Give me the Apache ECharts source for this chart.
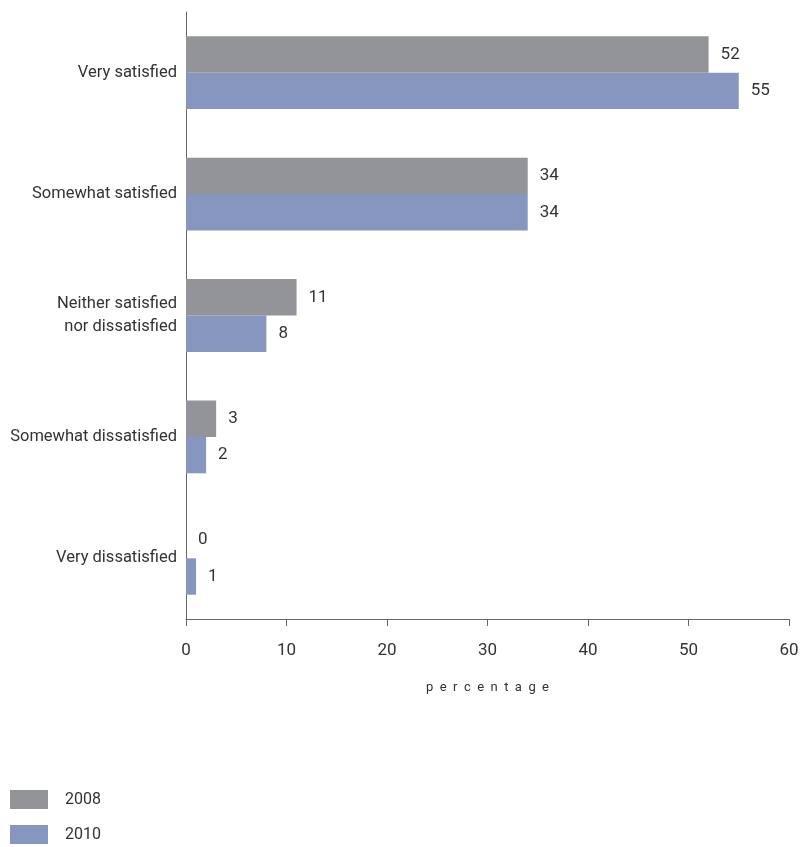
<!DOCTYPE html>
<html><head><meta charset="utf-8">
<script src="https://cdn.jsdelivr.net/npm/echarts@6/dist/echarts.min.js"></script>
<style>html,body{margin:0;padding:0;background:#fff}#c{width:802px;height:847px}</style>
</head><body><div id="c"></div>
<script>
const categories = ["Very satisfied","Somewhat satisfied","Neither satisfied\nnor dissatisfied","Somewhat dissatisfied","Very dissatisfied"];
const values2008 = [52,34,11,3,0];
const values2010 = [55,34,8,2,1];
const xTicks = [0,10,20,30,40,50,60];
const seriesNames = ["2008","2010"];

const chart = echarts.init(document.getElementById('c'));
const font = 'Roboto, "Liberation Sans", sans-serif';
const lbl = {show:true, position:'right', distance:12, color:'#333', fontSize:17, fontFamily:font};
const legendBase = {orient:'horizontal', left:10, padding:0, itemWidth:38, itemHeight:19, icon:'rect',
  textStyle:{color:'#333', fontSize:16, fontFamily:font, padding:[0,0,0,12]}};
chart.setOption({
  animation:false,
  grid:{left:186, right:13, top:12, bottom:228, containLabel:false},
  legend:[
    Object.assign({}, legendBase, {top:790, data:[seriesNames[0]]}),
    Object.assign({}, legendBase, {top:825, data:[seriesNames[1]]})
  ],
  xAxis:{
    type:'value', min:xTicks[0], max:xTicks[xTicks.length-1], interval:10,
    axisLine:{show:true, lineStyle:{color:'#666', width:1}},
    axisTick:{show:true, length:7, lineStyle:{color:'#666'}},
    axisLabel:{color:'#333', fontSize:17, fontFamily:font, margin:23},
    splitLine:{show:false},
    name:'p  e  r  c  e  n  t  a  g  e', nameLocation:'middle', nameGap:62,
    nameTextStyle:{color:'#333', fontSize:13, fontFamily:font}
  },
  yAxis:{
    type:'category', data:categories, inverse:true,
    axisLine:{show:true, lineStyle:{color:'#666', width:1}},
    axisTick:{show:false},
    axisLabel:{color:'#333', fontSize:16.5, fontFamily:font, margin:9, align:'right', lineHeight:23}
  },
  series:[
    {name:seriesNames[0], type:'bar', data:values2008, barGap:'0%', barCategoryGap:'40%',
     itemStyle:{color:'#939497'}, label:lbl},
    {name:seriesNames[1], type:'bar', data:values2010, barGap:'0%', barCategoryGap:'40%',
     itemStyle:{color:'#8796bf'}, label:lbl}
  ]
});
</script></body></html>
